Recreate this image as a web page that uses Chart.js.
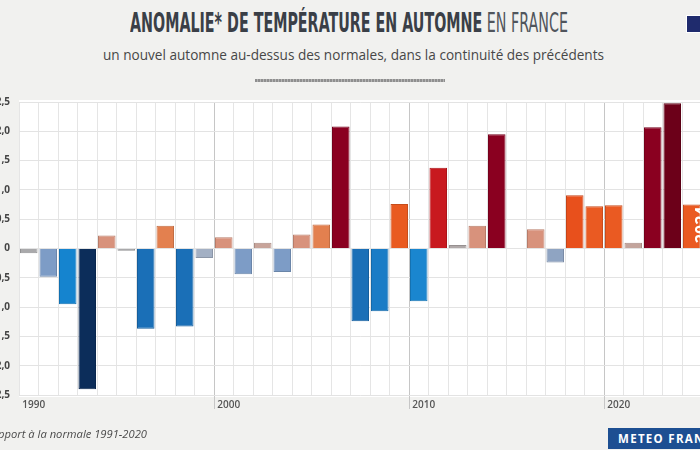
<!DOCTYPE html>
<html>
<head>
<meta charset="utf-8">
<script src="https://cdn.jsdelivr.net/npm/chart.js@4/dist/chart.umd.min.js"></script>
<style>
html,body{margin:0;padding:0;width:700px;height:450px;overflow:hidden;background:#f1f1ef;}
body{position:relative;font-family:'Open Sans',sans-serif;}
#chartBox{position:absolute;left:-40px;top:0;width:745px;height:450px;}
#title{position:absolute;top:10px;left:130px;white-space:nowrap;transform-origin:0 0;
  font-family:'Liberation Sans Narrow','DejaVu Sans Condensed','Roboto',sans-serif;font-size:26px;line-height:26px;color:#3a3f47;}
#title .b{font-weight:bold;}
#title .l{font-weight:normal;color:#50555c;}
#subtitle{position:absolute;top:44px;left:103px;white-space:nowrap;transform-origin:0 0;
  font-family:'Open Sans',sans-serif;font-size:15px;line-height:20px;color:#474747;}
#rule{position:absolute;left:255px;top:79px;width:190px;height:3px;
  background:repeating-linear-gradient(90deg,#8f8f8f 0 2px,#b5b5b5 2px 3px);}
#note{position:absolute;top:427px;right:553px;white-space:nowrap;text-align:right;
  font-family:'Open Sans',sans-serif;font-style:italic;font-size:11.2px;line-height:14px;color:#4a4a4a;}
#brand{position:absolute;left:608px;top:428px;width:110px;height:21px;background:#1d4f92;
  color:#fff;font-family:'Open Sans',sans-serif;font-weight:bold;font-size:11.5px;line-height:21px;
  letter-spacing:1.3px;padding-left:10px;box-sizing:border-box;white-space:nowrap;}
#logo{position:absolute;left:686px;top:15px;width:30px;height:18px;background:#1f2b6d;border:1px solid #fff;box-sizing:border-box;}
</style>
</head>
<body>
<div id="title"><span class="b">ANOMALIE* DE TEMPÉRATURE EN AUTOMNE</span><span class="l"> EN FRANCE</span></div>
<div id="subtitle">un nouvel automne au-dessus des normales, dans la continuité des précédents</div>
<div id="rule"></div>
<div id="chartBox"><canvas id="c" width="745" height="450"></canvas></div>
<div id="note">*par rapport à la normale 1991-2020</div>
<div id="brand">METEO FRANCE</div>
<div id="logo"></div>
<script>
// ---- data ----
const years = ['1990','1991','1992','1993','1994','1995','1996','1997','1998','1999',
               '2000','2001','2002','2003','2004','2005','2006','2007','2008','2009',
               '2010','2011','2012','2013','2014','2015','2016','2017','2018','2019',
               '2020','2021','2022','2023','2024'];
const anomalies = [-0.08,-0.48,-0.95,-2.40,0.22,-0.04,-1.37,0.39,-1.33,-0.16,
                   0.19,-0.44,0.10,-0.40,0.24,0.41,2.08,-1.24,-1.07,0.76,
                   -0.90,1.38,0.06,0.39,1.95,0.01,0.33,-0.24,0.91,0.72,
                   0.74,0.10,2.07,2.48,0.75];
const xTickLabels = ['1990','2000','2010','2020'];
const yMin = -2.5, yMax = 2.5, yStep = 0.5;
const highlightYear = '2024';

// ---- styles ----
const barColors = ['#a9a9ab','#7d9cc6','#1584cf','#0c2d5a','#d8927c','#a9a9ab','#1a6fb7','#e3804f','#1a6fb7','#a3b0c4',
                   '#d8927c','#7d9cc6','#c8a49a','#7d9cc6','#d8927c','#e3804f','#8a0020','#1a6fb7','#1a7cc6','#e95a20',
                   '#1a86cf','#c8191f','#b0a9a9','#d8927c','#8a0020','#a9a9ab','#d8927c','#8fa4c2','#e8501c','#ea5a22',
                   '#ea5a22','#c3a49c','#8a0020','#6c0019','#ea5a22'];
function darken(hex, f){
  const n = parseInt(hex.slice(1),16);
  const r = Math.round(((n>>16)&255)*f), g = Math.round(((n>>8)&255)*f), b = Math.round((n&255)*f);
  return 'rgb('+r+','+g+','+b+')';
}

function fitWidth(el, target){
  el.style.transform = 'none';
  const w = el.getBoundingClientRect().width;
  el.style.transform = 'scaleX(' + (target / w) + ')';
}
fitWidth(document.getElementById('title'), 438);
fitWidth(document.getElementById('subtitle'), 501);

const plotBg = {
  id:'plotBg',
  beforeDraw(chart){
    const a = chart.chartArea, c = chart.ctx;
    c.save(); c.fillStyle = '#ffffff';
    c.fillRect(a.left, a.top - 2, a.right - a.left, a.bottom - a.top + 4);
    c.restore();
  }
};
const yearTag = {
  id:'yearTag',
  afterDatasetsDraw(chart){
    const meta = chart.getDatasetMeta(0);
    const bar = meta.data[years.indexOf(highlightYear)];
    const c = chart.ctx;
    c.save();
    c.translate(bar.x + 11, bar.y + 2);
    c.rotate(-Math.PI/2);
    c.font = 'bold 16px "Open Sans"';
    c.fillStyle = '#ffffff';
    c.textAlign = 'right';
    c.textBaseline = 'middle';
    c.fillText(highlightYear, 0, 0);
    c.restore();
  }
};

const isDecade = ctx => ctx.tick && ctx.index > 0 && xTickLabels.includes(years[ctx.index]);

new Chart(document.getElementById('c'), {
  type:'bar',
  data:{
    labels: years,
    datasets:[{
      data: anomalies,
      backgroundColor: barColors,
      borderColor: barColors.map(h => darken(h, 0.85)),
      borderWidth: 1,
      barPercentage: 0.9,
      categoryPercentage: 1
    }]
  },
  options:{
    responsive:false, animation:false, devicePixelRatio:1,
    layout:{padding:{top:102, bottom:35, left:0, right:3.5}},
    plugins:{legend:{display:false}, tooltip:{enabled:false}},
    scales:{
      x:{
        grid:{offset:true, drawTicks:true, tickLength:14,
              color: ctx => isDecade(ctx) ? '#c6c6c6' : '#e5e5e5',
              tickColor: ctx => isDecade(ctx) ? '#c6c6c6' : 'rgba(0,0,0,0)'},
        border:{display:false},
        ticks:{autoSkip:false, maxRotation:0, minRotation:0, align:'start', labelOffset:-6.5, padding:-10,
               color:'#555', font:{family:'Open Sans', size:10, weight:'600'},
               callback:function(v){ const l = this.getLabelForValue(v); return xTickLabels.includes(l) ? l : ''; }},
        afterFit: s => { s.height = 20; }
      },
      y:{
        min:yMin, max:yMax,
        grid:{drawTicks:false, color:'#e3e3e3'},
        border:{display:false},
        ticks:{stepSize:yStep, padding:9, color:'#454545', font:{family:'Open Sans', size:10, weight:'bold'},
               callback: v => Math.abs(v) < 1e-9 ? '0' : v.toFixed(1).replace('.', ',')},
        afterFit: s => { s.width = 59; }
      }
    }
  },
  plugins:[plotBg, yearTag]
});
</script>
</body>
</html>
